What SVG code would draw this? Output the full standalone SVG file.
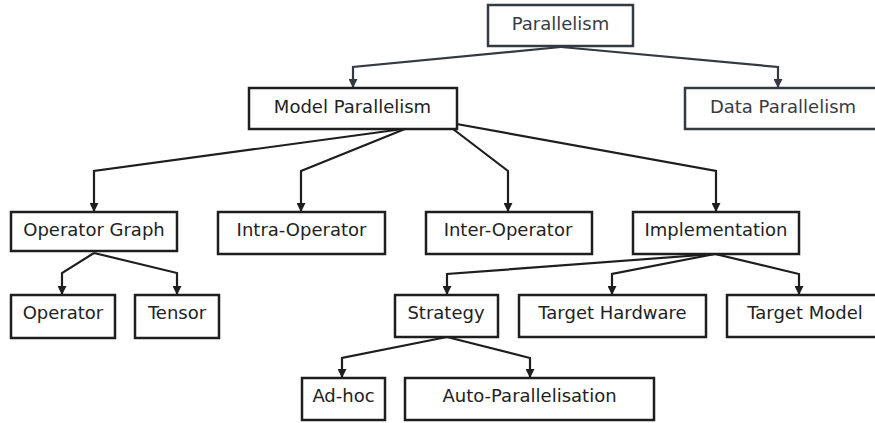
<svg xmlns="http://www.w3.org/2000/svg" width="875" height="423" viewBox="0 0 875 423">
<defs>
<style>
.box{fill:#fff;stroke:#1e1e1e;stroke-width:2.5}
.box.top{stroke:#343a42}
.lbl{font-family:"DejaVu Sans",sans-serif;font-size:18px;fill:#222;text-anchor:middle}
.lbl.top{fill:#383c42}
.edge{fill:none;stroke:#1e1e1e;stroke-width:2.2;marker-end:url(#arr)}
.edge.top{stroke:#343a42;marker-end:url(#arr2)}
</style>
<marker id="arr" viewBox="0 0 10 10" refX="10" refY="5" markerUnits="userSpaceOnUse" markerWidth="9" markerHeight="9" orient="auto">
<path d="M0,0 L10,5 L0,10 z" fill="#1e1e1e"/>
</marker>
<marker id="arr2" viewBox="0 0 10 10" refX="10" refY="5" markerUnits="userSpaceOnUse" markerWidth="9" markerHeight="9" orient="auto">
<path d="M0,0 L10,5 L0,10 z" fill="#343a42"/>
</marker>
</defs>
<rect width="875" height="423" fill="#fff"/>
<g id="connectors">
<polyline class="edge top" points="561,47 353,67 353,88"/>
<polyline class="edge top" points="561,47 778,67 778,88"/>
<polyline class="edge" points="403,129 94,171 94,212"/>
<polyline class="edge" points="405,129 301,171 301,212"/>
<polyline class="edge" points="453,129 508,171 508,212"/>
<polyline class="edge" points="440,121 716,171 716,212"/>
<polyline class="edge" points="94,253 62,273 62,295"/>
<polyline class="edge" points="94,253 177,273 177,295"/>
<polyline class="edge" points="715,254 447,274 447,295"/>
<polyline class="edge" points="715,254 612,274 612,295"/>
<polyline class="edge" points="715,254 799,274 799,295"/>
<polyline class="edge" points="447,337 342,358 342,378"/>
<polyline class="edge" points="447,337 530,358 530,378"/>
</g>
<g id="parallelism"><rect class="box top" x="488" y="5" width="145" height="41"/><text class="lbl top" x="560.5" y="29.5">Parallelism</text></g>
<g id="model-parallelism"><rect class="box" x="249" y="88" width="208" height="41"/><text class="lbl" x="352.5" y="112.5">Model Parallelism</text></g>
<g id="data-parallelism"><rect class="box top" x="685" y="88" width="200" height="41"/><text class="lbl top" x="783" y="112.5">Data Parallelism</text></g>
<g id="operator-graph"><rect class="box" x="11" y="212" width="166" height="39"/><text class="lbl" x="94" y="235.5">Operator Graph</text></g>
<g id="intra-operator"><rect class="box" x="218" y="212" width="167" height="42"/><text class="lbl" x="301.5" y="236">Intra-Operator</text></g>
<g id="inter-operator"><rect class="box" x="426" y="212" width="166" height="42"/><text class="lbl" x="508" y="236">Inter-Operator</text></g>
<g id="implementation"><rect class="box" x="633" y="212" width="166" height="42"/><text class="lbl" x="716" y="236">Implementation</text></g>
<g id="operator"><rect class="box" x="11" y="295" width="104" height="43"/><text class="lbl" x="63" y="319">Operator</text></g>
<g id="tensor"><rect class="box" x="135" y="295" width="84" height="43"/><text class="lbl" x="177" y="319">Tensor</text></g>
<g id="strategy"><rect class="box" x="395" y="295" width="103" height="42"/><text class="lbl" x="446" y="319">Strategy</text></g>
<g id="target-hardware"><rect class="box" x="519" y="295" width="187" height="42"/><text class="lbl" x="612.5" y="319">Target Hardware</text></g>
<g id="target-model"><rect class="box" x="727" y="295" width="160" height="42"/><text class="lbl" x="805" y="319">Target Model</text></g>
<g id="ad-hoc"><rect class="box" x="302" y="378" width="83" height="42"/><text class="lbl" x="343.5" y="402">Ad-hoc</text></g>
<g id="auto-parallelisation"><rect class="box" x="405" y="378" width="249" height="42"/><text class="lbl" x="529.5" y="402">Auto-Parallelisation</text></g>
</svg>
